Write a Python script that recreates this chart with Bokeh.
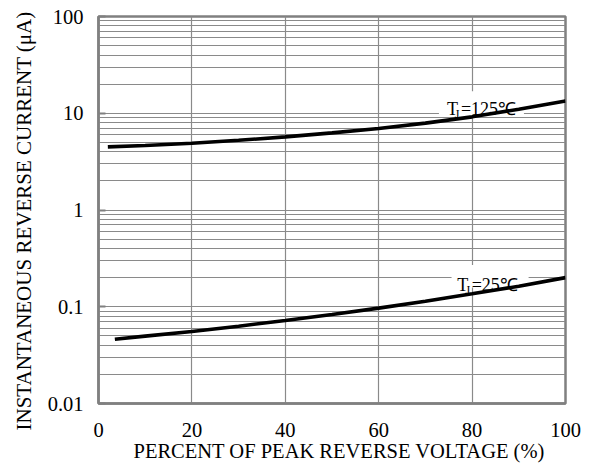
from bokeh.plotting import figure
from bokeh.models import FixedTicker, CustomJSTickFormatter, Title, Range1d
from bokeh.core.properties import value
from bokeh.embed import file_html
from bokeh.resources import INLINE

# ---- data ----
x_125 = [2, 10, 20, 30, 40, 50, 60, 70, 80, 90, 100]
ir_125 = [4.49, 4.64, 4.90, 5.25, 5.70, 6.27, 6.96, 7.90, 9.18, 11.0, 13.4]

x_25 = [3.5, 10, 20, 30, 40, 50, 60, 70, 80, 90, 100]
ir_25 = [0.0462, 0.0497, 0.0555, 0.063, 0.0721, 0.0832, 0.0968, 0.114, 0.136, 0.163, 0.200]

x_ticks = [0, 20, 40, 60, 80, 100]
y_ticks = [0.01, 0.1, 1, 10, 100]
y_minor = [m * d for d in [0.01, 0.1, 1, 10] for m in range(2, 10)]

FONT = "Liberation Serif"
GRID = "#8a8a8a"
FRAME = "#808080"

p = figure(width=592, height=466, y_axis_type="log",
           x_range=Range1d(0, 100), y_range=Range1d(0.01, 100),
           output_backend="svg", toolbar_location=None,
           min_border_left=98, min_border_right=27,
           min_border_top=16, min_border_bottom=63)
p.background_fill_color = "white"
p.border_fill_color = "white"
p.outline_line_color = FRAME
p.outline_line_width = 2.5

# axes
p.xaxis.ticker = FixedTicker(ticks=x_ticks)
p.yaxis.ticker = FixedTicker(ticks=y_ticks, minor_ticks=y_minor)
p.yaxis.formatter = CustomJSTickFormatter(code="return tick.toString();")
p.xaxis.formatter = CustomJSTickFormatter(code="return tick.toString();")

for ax in (p.xaxis[0], p.yaxis[0]):
    ax.axis_line_color = FRAME
    ax.axis_line_width = 2.5
    ax.major_label_text_font = FONT
    ax.major_label_text_font_size = "20.5px"
    ax.major_label_text_color = "black"
    ax.major_label_text_line_height = 1.0
    ax.minor_tick_line_color = None
    ax.major_tick_out = 0

p.xaxis.major_tick_line_color = None
p.xaxis.major_label_standoff = 19

p.yaxis.major_tick_in = 7
p.yaxis.major_tick_line_color = FRAME
p.yaxis.major_tick_line_width = 2
p.yaxis.major_label_standoff = 11

xtitle = Title(text="PERCENT OF PEAK REVERSE VOLTAGE (%)", align="left",
               text_font=FONT, text_font_size="20.5px", text_font_style="normal",
               text_color="black", offset=35, standoff=-3)
p.add_layout(xtitle, "below")

ytitle = Title(text="INSTANTANEOUS REVERSE CURRENT (\u03bcA)", align="left",
               text_font=FONT, text_font_size="21px", text_font_style="normal",
               text_color="black", offset=-27, standoff=18)
p.add_layout(ytitle, "left")

# grids
p.xgrid.grid_line_color = GRID
p.xgrid.grid_line_width = 1.2
p.ygrid.grid_line_color = GRID
p.ygrid.grid_line_width = 1.2
p.ygrid.minor_grid_line_color = GRID
p.ygrid.minor_grid_line_width = 1.2

# white boxes behind labels
p.quad(left=[72.9], right=[91.1], top=[16.9], bottom=[9.5],
       fill_color="white", line_color=None)
p.quad(left=[75.6], right=[92.1], top=[0.27], bottom=[0.158],
       fill_color="white", line_color=None)

# curves
p.line(x_125, ir_125, line_color="black", line_width=3.6)
p.line(x_25, ir_25, line_color="black", line_width=3.6)

# labels
def tj_label(xt, xj, xr, yb, rest):
    p.text(x=[xt], y=[yb], text=["T"], text_font=value(FONT), text_font_size="18px",
           text_baseline="alphabetic", text_align="left", text_color="black")
    p.text(x=[xj], y=[yb], text=["J"], text_font=value(FONT), text_font_size="12px",
           text_baseline="alphabetic", text_align="left", text_color="black", y_offset=5)
    p.text(x=[xr], y=[yb], text=[rest], text_font=value(FONT), text_font_size="18px",
           text_baseline="alphabetic", text_align="left", text_color="black")

tj_label(74.6, 76.3, 77.6, 11.0, "=125\u2103")
tj_label(76.8, 78.6, 79.9, 0.166, "=25\u2103")

open("out.html", "w").write(file_html(p, INLINE))
